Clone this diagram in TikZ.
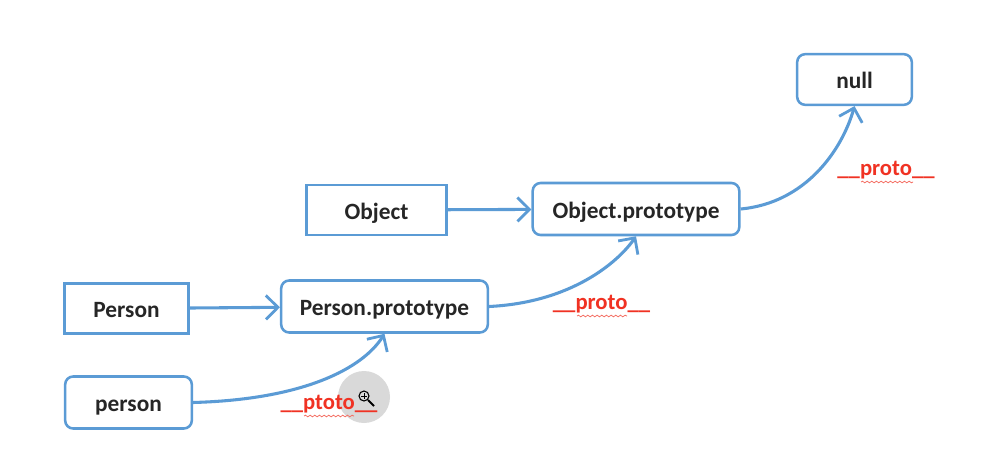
\documentclass[tikz,border=0pt]{standalone}
\usepackage{fontspec}
\setmainfont{Carlito}
\usetikzlibrary{arrows.meta,decorations.pathmorphing}

\definecolor{boxblue}{RGB}{91,155,213}
\definecolor{protored}{RGB}{240,50,35}

\tikzset{every picture/.style={line width=0.75pt}}
\tikzset{
  typebox/.style={draw=boxblue,line width=2.1pt,fill=white,font=\bfseries\fontsize{17.5}{20}\selectfont,text=black!85,inner sep=0pt,text height=15.5pt,text depth=2pt},
  objbox/.style={typebox,rounded corners=6pt,line width=1.9pt},
  linkarrow/.style={draw=boxblue,line width=2.3pt,-{Straight Barb[length=9pt,width=18pt,line width=2.1pt]}},
  protolabel/.style={text=protored,font=\bfseries\fontsize{17}{20}\selectfont,inner sep=0pt},
  squiggle/.style={draw=protored!70,line width=0.6pt,decorate,decoration={snake,amplitude=0.6pt,segment length=3.5pt}}
}

\begin{document}
\begin{tikzpicture}[x=0.75pt,y=0.75pt,yscale=-1,xscale=1]
\useasboundingbox (0,0) rectangle (990,464);

%Boxes
\node (Object) [typebox,minimum width=105pt,minimum height=37.5pt] at (376.5,210) {Object};
\node (ObjectProto) [objbox,minimum width=155pt,minimum height=39pt] at (636,209) {Object.prototype};
\node (null) [objbox,minimum width=86pt,minimum height=38pt] at (854.5,79.5) {null};
\node (Person) [typebox,minimum width=93pt,minimum height=38pt] at (126.5,308.5) {Person};
\node (PersonProto) [objbox,minimum width=155pt,minimum height=39pt] at (384.5,306.5) {Person.prototype};
\node (person) [objbox,minimum width=95pt,minimum height=39pt] at (128.5,402.5) {person};

%Zoom cursor
\fill [black!15] (364,397) circle (26);
\draw [black,line width=0.8pt] (364,396) circle (5);
\draw [black,line width=1.4pt] (368,400) -- (374,406);
\draw [black,line width=0.5pt] (361,396) -- (367,396) (364,393) -- (364,399);

%Straight Lines
\draw [linkarrow] (Object) -- (ObjectProto);
\draw [linkarrow] (Person) -- (PersonProto);
%Curves
\draw [linkarrow] (person.east) .. controls +(110,-3) and +(-22,35) .. (PersonProto.south);
\draw [linkarrow] (PersonProto.east) .. controls +(82,-4) and +(-18,26) .. (ObjectProto.south);
\draw [linkarrow] (ObjectProto.east) .. controls +(65,-6) and +(-12.5,44) .. (null.south);

% Text Node
\node (ptotoA) [protolabel] at (329,404) {\_\_ptoto\_\_};
\draw [squiggle] (304,416) -- (354,416);
% Text Node
\node (protoB) [protolabel] at (601.5,304) {\_\_proto\_\_};
\draw [squiggle] (577,316) -- (627,316);
% Text Node
\node (protoC) [protolabel] at (886,170) {\_\_proto\_\_};
\draw [squiggle] (861,182) -- (913,182);

\end{tikzpicture}
\end{document}
